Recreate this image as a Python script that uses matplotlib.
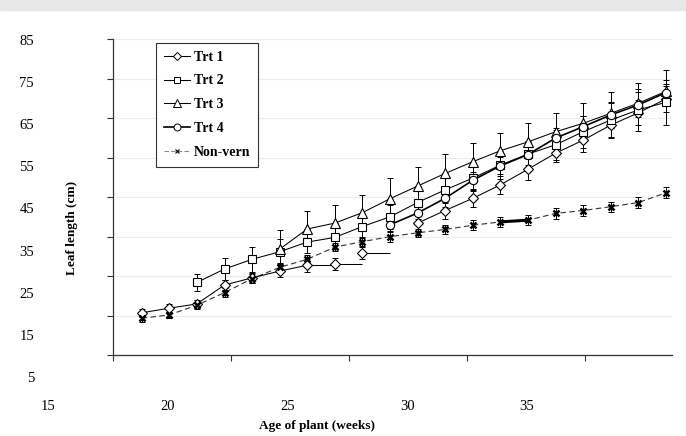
import numpy as np
import matplotlib
matplotlib.use("Agg")
import matplotlib.pyplot as plt
from matplotlib.lines import Line2D
from matplotlib.patches import Rectangle

nan = np.nan

# age of plant (weeks), one entry per measurement
weeks = np.array([18.91, 20.06, 21.21, 22.37, 23.52, 24.67, 25.82, 26.97, 28.13, 29.28,
                  30.43, 31.58, 32.74, 33.89, 35.04, 36.19, 37.34, 38.50, 39.65, 40.80])

# leaf length (cm)
trt1 = np.array([20.2, 21.3, 22.3, 26.8, 28.5, 30.1, 31.5, 31.8, 34.4, nan,
                 41.5, 44.5, 47.4, 50.6, 54.3, 58.1, 61.2, 64.8, 67.7, 71.0])
trt2 = np.array([nan, nan, 27.4, 30.6, 32.9, 34.7, 37.0, 38.1, 40.7, 43.0,
                 46.4, 49.4, 52.2, 55.3, 57.9, 60.1, 63.2, 66.0, 68.4, 70.2])
trt3 = np.array([nan, nan, nan, nan, nan, 35.3, 40.1, 41.5, 44.0, 47.3,
                 50.3, 53.3, 56.1, 58.7, 60.8, 63.2, 65.2, 67.6, 70.0, 72.8])
trt4 = np.array([nan, nan, nan, nan, nan, nan, nan, nan, nan, 41.1,
                 43.9, 47.4, 51.7, 55.1, 57.8, 61.7, 64.4, 67.2, 69.6, 72.5])
nonvern = np.array([18.9, 19.7, 22.0, 25.0, 28.3, 31.0, 32.9, 35.8, 37.1, 38.3,
                    39.2, 40.0, 41.0, 41.8, 42.2, 43.8, 44.5, 45.4, 46.4, 48.7])

# error bars (cm)
trt1_err = np.array([1.0, 1.0, 1.0, 1.2, 1.2, 1.5, 1.5, 1.5, 1.5, nan,
                     1.8, 2.0, 2.0, 2.2, 2.5, 2.0, 2.8, 3.0, 3.0, 3.0])
trt2_err = np.array([nan, nan, 2.1, 2.6, 3.0, 3.0, 2.5, 2.5, 2.8, 2.8,
                     3.0, 3.0, 3.0, 3.2, 3.2, 3.5, 3.8, 4.0, 5.0, 5.3])
trt3_err = np.array([nan, nan, nan, nan, nan, 4.6, 4.2, 4.3, 4.3, 4.9,
                     4.6, 4.7, 4.4, 4.3, 4.4, 4.5, 4.9, 5.1, 4.9, 5.0])
trt4_err = np.array([nan, nan, nan, nan, nan, nan, nan, nan, nan, 1.5,
                     1.5, 2.0, 2.0, 2.0, 2.5, 2.5, 2.5, 3.0, 3.0, 2.0])
nonvern_err = np.array([0.8, 0.8, 0.8, 1.0, 1.0, 1.0, 1.0, 1.0, 1.0, 1.2,
                        1.0, 1.0, 1.2, 1.2, 1.2, 1.2, 1.2, 1.2, 1.2, 1.3])

x_labels = [15, 20, 25, 30, 35]
y_labels = [5, 15, 25, 35, 45, 55, 65, 75, 85]
series_names = ["Trt 1", "Trt 2", "Trt 3", "Trt 4", "Non-vern"]

plt.rcParams["font.family"] = ["Liberation Serif", "DejaVu Serif"]

W, H = 686, 436
fig = plt.figure(figsize=(W / 100, H / 100), dpi=100)


def fx(px):
    return px / W


def fy(py):
    return 1 - py / H


# pixel scale of the printed labels (labels sit offset from the tick marks)
X0_PX, PX_PER_WEEK = 48, 23.95
Y0_PX, PX_PER_CM = 40, 4.21


def week_at(px):
    return 15 + (px - X0_PX) / PX_PER_WEEK


def cm_at(py):
    return 85 - (py - Y0_PX) / PX_PER_CM


fig.patches.append(Rectangle((0, fy(10)), 1, 1 - fy(10), transform=fig.transFigure,
                             color="#e8e8e8", zorder=0))

# axes carrying only the tick labels
ax_lab = fig.add_axes([fx(48), fy(376.8), fx(527) - fx(48), fy(40) - fy(376.8)])
ax_lab.set_xlim(15, 35)
ax_lab.set_ylim(5, 85)
ax_lab.set_xticks(x_labels)
ax_lab.set_yticks(y_labels)
ax_lab.tick_params(axis="x", length=0, labelsize=10.5, pad=17)
ax_lab.tick_params(axis="y", length=0, labelsize=10.5, pad=10)
for s in ax_lab.spines.values():
    s.set_visible(False)
ax_lab.patch.set_visible(False)

# plot axes
L, R, T, B = 113, 672, 39, 355
ax = fig.add_axes([fx(L), fy(B), fx(R) - fx(L), fy(T) - fy(B)])
ax.patch.set_visible(False)
ax.set_xlim(week_at(L), week_at(R))
ax.set_ylim(cm_at(B), cm_at(T))
ax.set_xticks([week_at(p) for p in [113, 231, 349, 467, 585]])
ax.set_yticks([cm_at(39.3 + 39.46 * k) for k in range(9)])
ax.set_xticklabels([])
ax.set_yticklabels([])
ax.tick_params(direction="out", length=4, width=0.8, color="#333333")
ax.yaxis.grid(True, color="#ececec", lw=0.8)
ax.set_axisbelow(True)
for side in ["top", "right"]:
    ax.spines[side].set_visible(False)
for side in ["left", "bottom"]:
    ax.spines[side].set_color("#333333")
    ax.spines[side].set_linewidth(0.9)

# lines
ax.plot(weeks, nonvern, ls=(0, (5, 3)), color="#333333", lw=0.8, zorder=2)
ax.plot(weeks[13:15], nonvern[13:15], color="black", lw=2.2, zorder=2)
ax.plot(weeks[:7], trt1[:7], color="black", lw=0.75, zorder=2)
ax.plot(weeks[10:], trt1[10:], color="black", lw=0.75, zorder=2)
ax.hlines(trt1[6:9], weeks[6:9], weeks[7:10], colors="black", lw=0.75, zorder=2)
ax.plot(weeks, trt2, color="black", lw=0.75, zorder=2)
ax.plot(weeks, trt3, color="black", lw=0.75, zorder=2)
ax.plot(weeks, trt4, color="black", lw=1.2, zorder=2)

# error bars
err_kw = dict(fmt="none", ecolor="black", elinewidth=0.7, capsize=2.5, capthick=0.7, zorder=3)
ax.errorbar(weeks, nonvern, yerr=nonvern_err, **err_kw)
ax.errorbar(weeks, trt1, yerr=trt1_err, **err_kw)
ax.errorbar(weeks, trt2, yerr=trt2_err, **err_kw)
ax.errorbar(weeks, trt3, yerr=[np.zeros_like(trt3_err), trt3_err], **err_kw)
ax.errorbar(weeks, trt4, yerr=trt4_err, **err_kw)

# markers
mk = dict(ls="none", mfc="white", mec="black", mew=0.8, zorder=4)
ax.plot(weeks, trt1, marker="D", ms=5.0, **mk)
ax.plot(weeks, trt2, marker="s", ms=6.0, **mk)
ax.plot(weeks, trt3, marker="^", ms=7.0, **mk)
ax.plot(weeks, trt4, marker="o", ms=6.0, **mk)
ax.plot(weeks, nonvern, ls="none", marker="x", ms=5, mec="black", mew=1.8, zorder=4)

ax.set_xlabel("Age of plant (weeks)", fontsize=9.5, fontweight="bold")
ax.xaxis.set_label_coords((317 - L) / (R - L), (B - 426) / (B - T))
ax.xaxis.label.set_va("center")
ax.set_ylabel("Leaf length (cm)", fontsize=9.5, fontweight="bold")
ax.yaxis.set_label_coords((72 - L) / (R - L), (B - 228) / (B - T))
ax.yaxis.label.set_va("center")

hd = dict(color="black", lw=0.75, mfc="white", mec="black", mew=0.7)
handles = [
    Line2D([], [], marker="D", ms=4.0, **hd),
    Line2D([], [], marker="s", ms=5.0, **hd),
    Line2D([], [], marker="^", ms=5.5, **hd),
    Line2D([], [], marker="o", ms=5.0, color="black", lw=1.2, mfc="white", mec="black", mew=0.7),
    Line2D([], [], marker="x", ms=3.5, color="#888888", lw=0.8, ls=(0, (4, 2)), mec="black", mew=0.8),
]
leg = ax.legend(handles, series_names, loc="upper left",
                bbox_to_anchor=((156 - L) / (R - L), 1 - (43 - T) / (B - T)),
                borderaxespad=0, frameon=True, fancybox=False, edgecolor="#333333",
                framealpha=1, prop=dict(weight="bold", size=10), handlelength=1.9,
                handletextpad=0.3, labelspacing=0.78, borderpad=0.55)
leg.get_frame().set_linewidth(0.8)

fig.savefig("out.png", dpi=100)
